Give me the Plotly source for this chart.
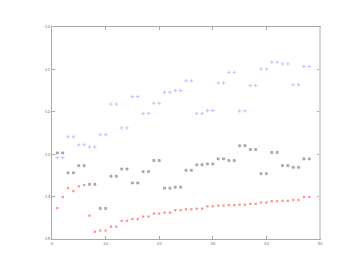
import plotly.graph_objects as go

x_pairs = list(range(1, 49))

blue_pairs = [-13.08, -12.59, -12.78, -12.83, -12.54, -11.82, -12.38, -11.64,
              -12.04, -11.80, -11.54, -11.50, -11.27, -12.04, -11.97, -11.32,
              -11.07, -11.98, -11.38, -10.99, -10.83, -10.87, -11.36, -10.93]

gray_pairs = [-12.97, -13.44, -13.27, -13.71, -14.28, -13.52, -13.35, -13.68,
              -13.41, -13.15, -13.80, -13.78, -13.38, -13.25, -13.23, -13.11,
              -13.15, -12.80, -12.89, -13.46, -12.96, -13.27, -13.31, -13.11]

red_vals = [-14.27, -14.01, -13.80, -13.87, -13.76, -13.73, -14.45, -14.83,
            -14.80, -14.80, -14.71, -14.71, -14.57, -14.57, -14.53, -14.53,
            -14.47, -14.47, -14.40, -14.40, -14.38, -14.38, -14.32, -14.32,
            -14.30, -14.30, -14.285, -14.285, -14.23, -14.23, -14.21, -14.21,
            -14.20, -14.20, -14.19, -14.19, -14.17, -14.17, -14.14, -14.14,
            -14.11, -14.11, -14.10, -14.10, -14.08, -14.08, -14.01, -14.01]

blue_vals = [v for v in blue_pairs for _ in range(2)]
gray_vals = [v for v in gray_pairs for _ in range(2)]

x_ticks = [0, 10, 20, 30, 40, 50]
y_ticks = [-10, -11, -12, -13, -14, -15]

fig = go.Figure()
fig.add_trace(go.Scatter(x=x_pairs, y=blue_vals, mode="markers",
                         marker=dict(symbol="cross-thin-open", size=2.5,
                                     color="rgb(195,195,255)",
                                     line=dict(color="rgb(195,195,255)", width=1))))
fig.add_trace(go.Scatter(x=x_pairs, y=gray_vals, mode="markers",
                         marker=dict(symbol="square", size=2,
                                     color="rgb(190,190,190)",
                                     line=dict(color="rgb(135,135,135)", width=0.6))))
fig.add_trace(go.Scatter(x=x_pairs, y=red_vals, mode="markers",
                         marker=dict(symbol="square", size=2.2,
                                     color="rgb(255,140,140)",
                                     line=dict(width=0))))

axis_common = dict(showgrid=False, zeroline=False, ticks="inside", ticklen=3,
                   tickcolor="rgb(170,170,170)", linecolor="rgb(170,170,170)",
                   linewidth=1, mirror="allticks", showline=True,
                   tickfont=dict(size=4, color="rgb(120,120,120)", family="DejaVu Sans"))

fig.update_xaxes(range=[0, 50], tickvals=x_ticks, ticktext=[str(t) for t in x_ticks],
                 **axis_common)
fig.update_yaxes(range=[-15, -10], tickvals=y_ticks, ticktext=[str(t) for t in y_ticks],
                 **axis_common)

fig.add_shape(type="line", xref="paper", yref="paper", x0=1, x1=1, y0=0, y1=1,
              line=dict(color="rgb(215,215,215)", width=2))

fig.update_layout(width=345, height=259, showlegend=False,
                  plot_bgcolor="white", paper_bgcolor="white",
                  margin=dict(l=44, r=33, t=19, b=28))

fig.write_html("out.html")
